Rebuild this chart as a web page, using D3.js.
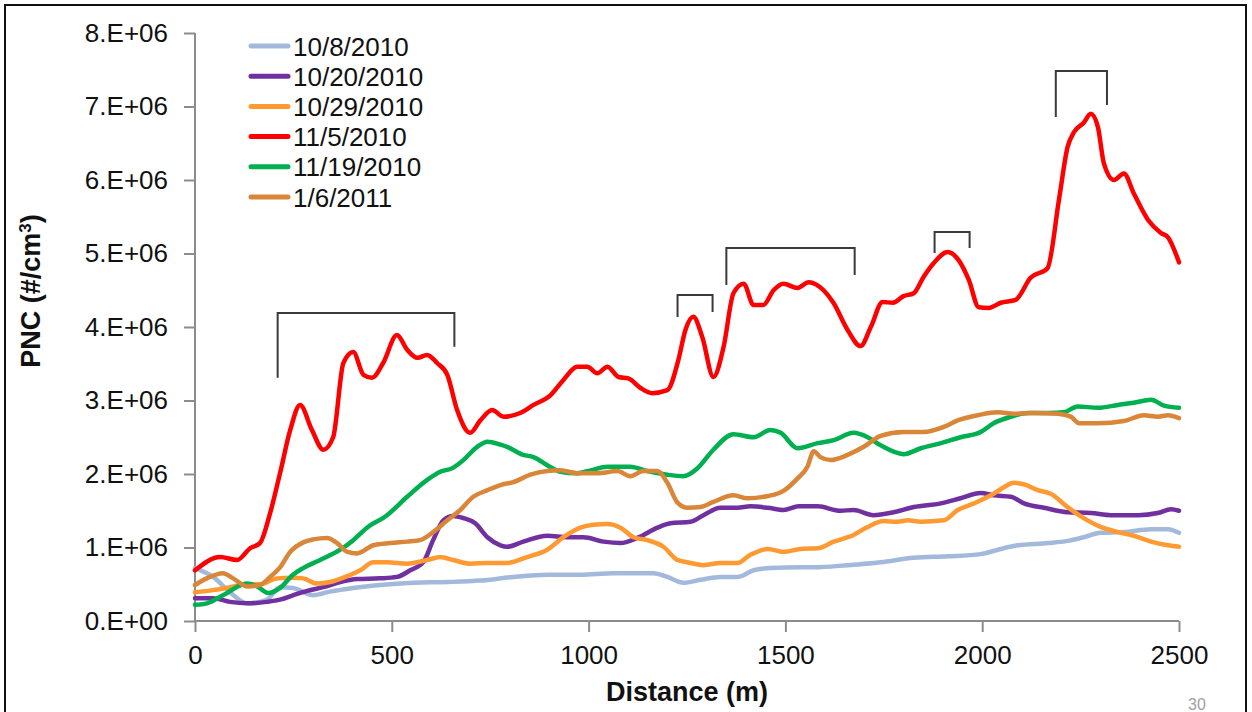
<!DOCTYPE html>
<html>
<head>
<meta charset="utf-8">
<script src="https://cdn.jsdelivr.net/npm/d3@7"></script>
<style>
  html, body { margin: 0; padding: 0; background: #fff; }
  svg { display: block; font-family: "Liberation Sans", Arial, sans-serif; }
</style>
</head>
<body>
<svg id="chart" width="1252" height="712"></svg>
<script>
// ---------------- data (PNC in units of 1E+06 #/cm3, distance in m) ----------------
const seriesNames = ["10/8/2010", "10/20/2010", "10/29/2010", "11/5/2010", "11/19/2010", "1/6/2011"];
const seriesColors = ["#a3b9db", "#7030a0", "#ff9a33", "#ff0000", "#00b050", "#d98639"];

const lightBlueX = [0,46,89,132,183,216,249,300,343,402,470,554,641,725,809,895,979,1063,1165,1200,1241,1284,1335,1378,1419,1462,1539,1572,1658,1742,1826,1912,1996,2040,2090,2167,2217,2258,2301,2360,2429,2472,2500];
const lightBlueY = [0.72,0.60,0.39,0.24,0.29,0.46,0.45,0.35,0.40,0.45,0.49,0.52,0.53,0.55,0.60,0.63,0.63,0.65,0.65,0.60,0.52,0.56,0.60,0.60,0.69,0.72,0.73,0.73,0.76,0.80,0.86,0.88,0.91,0.97,1.03,1.06,1.09,1.14,1.20,1.21,1.25,1.25,1.20];

const purpleX = [0,46,89,132,183,216,249,285,326,369,412,470,513,547,580,605,631,656,682,712,743,776,793,834,895,946,987,1038,1081,1124,1175,1208,1259,1292,1335,1378,1411,1455,1495,1534,1582,1640,1673,1724,1775,1826,1895,1945,1996,2029,2073,2106,2157,2217,2276,2327,2396,2446,2480,2500];
const purpleY = [0.31,0.31,0.26,0.24,0.26,0.29,0.35,0.41,0.46,0.53,0.57,0.58,0.60,0.69,0.80,1.10,1.37,1.43,1.40,1.33,1.14,1.03,1.01,1.08,1.16,1.14,1.14,1.08,1.06,1.13,1.27,1.33,1.35,1.44,1.54,1.54,1.56,1.54,1.51,1.56,1.56,1.50,1.51,1.44,1.48,1.55,1.60,1.67,1.74,1.71,1.69,1.60,1.54,1.48,1.47,1.44,1.44,1.47,1.52,1.50];

const orangeX = [0,46,89,132,165,209,249,275,310,343,387,420,453,488,539,590,623,656,699,743,793,844,895,936,979,1012,1048,1081,1114,1149,1190,1226,1251,1292,1335,1378,1411,1455,1495,1538,1582,1623,1673,1709,1750,1785,1811,1844,1902,1938,1979,2022,2055,2080,2106,2141,2174,2217,2258,2301,2345,2385,2429,2472,2500];
const orangeY = [0.39,0.42,0.46,0.50,0.50,0.58,0.59,0.58,0.51,0.53,0.61,0.69,0.80,0.80,0.78,0.83,0.87,0.83,0.78,0.79,0.79,0.87,0.97,1.14,1.27,1.31,1.32,1.27,1.14,1.10,1.01,0.83,0.80,0.76,0.79,0.79,0.90,0.98,0.94,0.98,0.99,1.08,1.17,1.28,1.36,1.35,1.37,1.35,1.37,1.51,1.60,1.71,1.82,1.88,1.86,1.78,1.73,1.55,1.40,1.28,1.21,1.16,1.08,1.03,1.01];

const redX = [0,64,107,140,165,191,216,242,267,297,326,351,377,402,428,450,478,513,539,565,590,615,641,666,699,725,755,784,826,860,903,936,971,997,1022,1048,1076,1101,1132,1162,1200,1228,1246,1266,1289,1317,1343,1368,1394,1419,1444,1470,1495,1531,1559,1597,1622,1658,1691,1717,1747,1773,1800,1826,1851,1877,1912,1940,1966,1991,2017,2047,2085,2123,2166,2195,2217,2233,2258,2276,2294,2309,2335,2360,2385,2421,2454,2472,2500];
const redY = [0.69,0.87,0.83,0.99,1.06,1.47,2.01,2.60,2.94,2.60,2.33,2.50,3.51,3.66,3.35,3.31,3.51,3.89,3.69,3.58,3.62,3.51,3.35,2.87,2.56,2.73,2.87,2.78,2.83,2.94,3.07,3.28,3.46,3.46,3.37,3.46,3.32,3.30,3.17,3.10,3.14,3.55,3.96,4.14,3.86,3.32,3.73,4.46,4.59,4.30,4.30,4.50,4.59,4.53,4.61,4.50,4.33,3.96,3.74,4.00,4.34,4.33,4.42,4.46,4.68,4.87,5.02,4.91,4.64,4.27,4.26,4.33,4.37,4.67,4.80,5.73,6.45,6.65,6.78,6.90,6.72,6.23,6.00,6.09,5.82,5.46,5.28,5.22,4.88];

const greenX = [0,30,71,132,158,186,216,249,275,318,369,402,437,488,539,590,623,654,682,717,743,776,793,834,860,895,928,971,1005,1048,1106,1149,1200,1241,1277,1317,1368,1419,1462,1488,1531,1582,1623,1673,1709,1742,1800,1844,1895,1945,1996,2029,2073,2116,2167,2207,2243,2294,2345,2385,2429,2462,2500];
const greenY = [0.22,0.24,0.35,0.51,0.47,0.38,0.45,0.63,0.72,0.83,0.97,1.10,1.27,1.44,1.69,1.92,2.03,2.08,2.19,2.37,2.44,2.40,2.37,2.26,2.23,2.12,2.03,2.01,2.05,2.10,2.10,2.04,1.99,1.97,2.08,2.33,2.54,2.50,2.60,2.56,2.35,2.42,2.46,2.56,2.50,2.39,2.27,2.35,2.42,2.50,2.57,2.69,2.78,2.83,2.83,2.84,2.92,2.90,2.94,2.97,3.01,2.93,2.90];

const brownX = [0,30,71,97,132,165,191,216,242,275,300,336,361,387,412,453,496,539,572,605,641,674,707,743,776,809,852,895,928,971,1022,1073,1106,1139,1175,1200,1226,1251,1284,1317,1368,1404,1455,1495,1531,1556,1572,1589,1615,1658,1699,1742,1800,1851,1902,1938,1989,2040,2080,2131,2192,2225,2246,2294,2360,2411,2446,2472,2500];
const brownY = [0.49,0.58,0.65,0.58,0.47,0.49,0.60,0.73,0.94,1.07,1.11,1.13,1.06,0.94,0.92,1.03,1.06,1.08,1.10,1.21,1.37,1.51,1.69,1.78,1.85,1.89,1.99,2.04,2.05,2.01,2.01,2.04,1.97,2.04,2.04,1.88,1.61,1.54,1.55,1.62,1.71,1.67,1.70,1.77,1.94,2.10,2.31,2.23,2.19,2.26,2.37,2.52,2.57,2.57,2.64,2.73,2.80,2.84,2.82,2.83,2.82,2.78,2.69,2.69,2.72,2.80,2.78,2.80,2.76];

const xTicks = [0, 500, 1000, 1500, 2000, 2500];
const yTicks = [0, 1, 2, 3, 4, 5, 6, 7, 8];
const yTickLabels = ["0.E+00","1.E+06","2.E+06","3.E+06","4.E+06","5.E+06","6.E+06","7.E+06","8.E+06"];

// brackets: [x start, x end, top value, left foot value, right foot value]
const bracketStart = [210, 1226, 1350, 1879, 2187];
const bracketEnd   = [659, 1315, 1676, 1968, 2317];
const bracketTop   = [4.19, 4.435, 5.075, 5.293, 7.483];
const bracketLeft  = [3.31, 4.136, 4.571, 5.007, 6.857];
const bracketRight = [3.73, 4.204, 4.707, 5.075, 7.02];

// ---------------- drawing ----------------
const svg = d3.select("#chart");

// slide frame
svg.append("rect").attr("x", 5).attr("y", 5).attr("width", 1241).attr("height", 760)
  .attr("fill", "none").attr("stroke", "#111").attr("stroke-width", 2);
svg.append("text").attr("x", 1197).attr("y", 710).attr("text-anchor", "middle")
  .attr("font-size", 16).attr("fill", "#a0a0a0").text("30");

const x = d3.scaleLinear().domain([0, 2500]).range([195, 1179]);
const y = d3.scaleLinear().domain([0, 8]).range([621, 33]);

// axes
const axisColor = "#8c8c8c";
const yAxis = svg.append("g").attr("transform", `translate(${x(0)},0)`)
  .call(d3.axisLeft(y).tickValues(yTicks).tickSize(11).tickPadding(16)
    .tickFormat((d, i) => yTickLabels[i]));
const xAxis = svg.append("g").attr("transform", `translate(0,${y(0)})`)
  .call(d3.axisBottom(x).tickValues(xTicks).tickSize(11).tickPadding(14).tickFormat(d3.format("d")));
[xAxis, yAxis].forEach(g => {
  g.select(".domain").attr("stroke", axisColor).attr("stroke-width", 2);
  g.selectAll(".tick line").attr("stroke", axisColor).attr("stroke-width", 2);
  g.selectAll(".tick text").attr("fill", "#111").attr("font-size", 26)
    .attr("font-family", "Liberation Sans, Arial, sans-serif");
});
xAxis.select(".domain").attr("d", `M${x(0)},0H${x(2500)}`);
yAxis.select(".domain").attr("d", `M0,${y(8)}V${y(0)}`);

// axis titles
svg.append("text").attr("x", x(1250)).attr("y", 701).attr("text-anchor", "middle")
  .attr("font-size", 27).attr("font-weight", "bold").attr("fill", "#111").text("Distance (m)");
const yt = svg.append("text").attr("transform", `translate(40,${291}) rotate(-90)`)
  .attr("text-anchor", "middle").attr("font-size", 27).attr("font-weight", "bold").attr("fill", "#111");
yt.append("tspan").text("PNC (#/cm");
yt.append("tspan").attr("baseline-shift", "super").attr("font-size", 17).text("3");
yt.append("tspan").text(")");

// series
const allX = [lightBlueX, purpleX, orangeX, redX, greenX, brownX];
const allY = [lightBlueY, purpleY, orangeY, redY, greenY, brownY];
const line = d3.line().x(d => x(d[0])).y(d => y(d[1])).curve(d3.curveMonotoneX);
seriesNames.forEach((name, i) => {
  const pts = allX[i].map((v, j) => [v, allY[i][j]]);
  svg.append("path").datum(pts).attr("d", line)
    .attr("fill", "none").attr("stroke", seriesColors[i]).attr("stroke-width", 4.5)
    .attr("stroke-linejoin", "round").attr("stroke-linecap", "round");
});

// brackets
bracketStart.forEach((s, i) => {
  const p = `M${x(s)},${y(bracketLeft[i])}V${y(bracketTop[i])}H${x(bracketEnd[i])}V${y(bracketRight[i])}`;
  svg.append("path").attr("d", p).attr("fill", "none").attr("stroke", "#3a3a3a").attr("stroke-width", 2);
});

// legend
const lg = svg.append("g");
seriesNames.forEach((name, i) => {
  const yy = 46 + i * 30.2;
  lg.append("line").attr("x1", 251).attr("x2", 288).attr("y1", yy).attr("y2", yy)
    .attr("stroke", seriesColors[i]).attr("stroke-width", 5).attr("stroke-linecap", "round");
  lg.append("text").attr("x", 293).attr("y", yy + 9.5).attr("font-size", 26).attr("fill", "#111").text(name);
});
</script>
</body>
</html>
